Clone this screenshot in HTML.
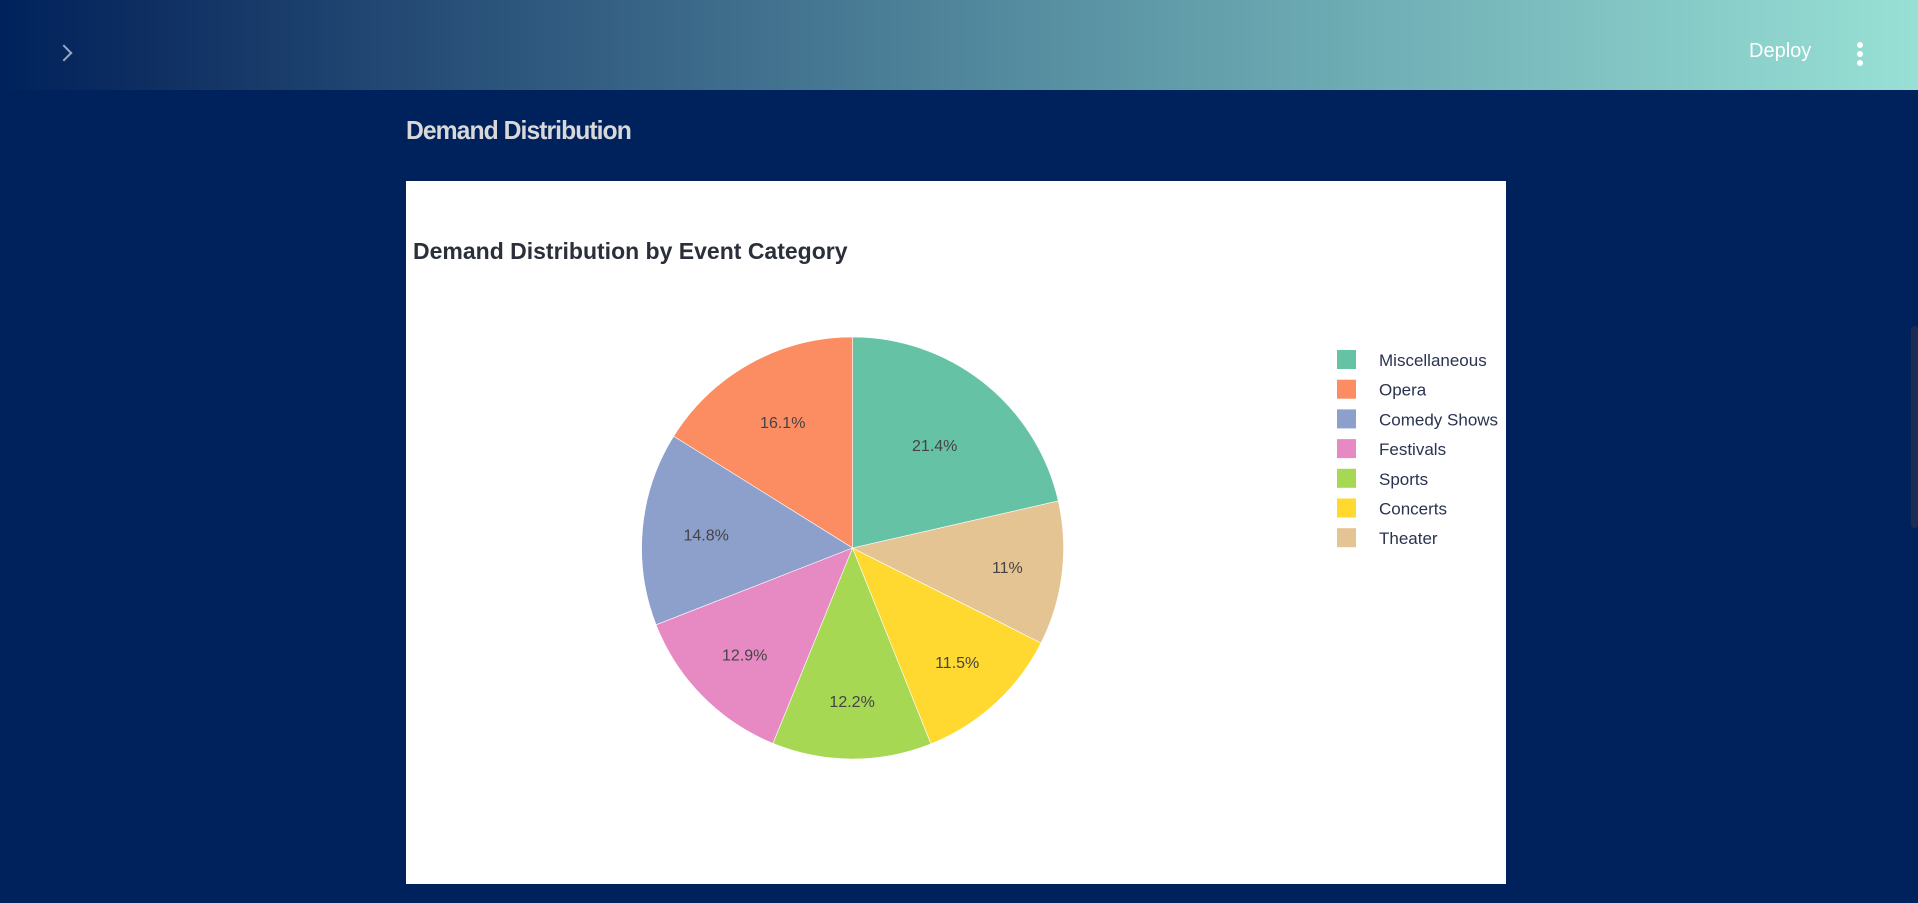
<!DOCTYPE html>
<html><head><meta charset="utf-8"><style>
html,body{margin:0;padding:0;width:1918px;height:903px;overflow:hidden;background:#00225c;font-family:"Liberation Sans",sans-serif;}
#header{position:absolute;left:0;top:0;width:1918px;height:90px;background:linear-gradient(90deg,#00225c 0%,#0f2f62 8%,#3a6788 35%,#5f9aa8 60%,#98e0d5 100%);}
#chev{position:absolute;left:58px;top:47px;width:10px;height:10px;border-right:2px solid #9aa8c0;border-top:2px solid #9aa8c0;transform:rotate(45deg);}
#deploy{position:absolute;left:1749px;top:40px;color:#fff;font-size:20px;}
.dot{position:absolute;left:1857px;width:6px;height:6px;border-radius:3px;background:#fff;}
#pagetitle{position:absolute;left:406px;top:115px;color:#d8d8d8;font-size:26px;font-weight:bold;font-family:"Liberation Sans",sans-serif;letter-spacing:-1px;transform:scaleX(0.95);transform-origin:left;}
#card{position:absolute;left:406px;top:181px;width:1100px;height:703px;background:#fff;}
#scroll{position:absolute;left:1911px;top:326px;width:7px;height:202px;background:#1b2b52;border-radius:3px;}
</style></head><body>
<div id="header">
  <div id="chev"></div>
  <div id="deploy">Deploy</div>
  <div class="dot" style="top:42px"></div>
  <div class="dot" style="top:51px"></div>
  <div class="dot" style="top:60px"></div>
</div>
<div id="pagetitle">Demand Distribution</div>
<div id="scroll"></div>
<div id="card">
<svg id="chart" width="1100" height="703" xmlns="http://www.w3.org/2000/svg">
  <text x="7" y="78" font-family="Liberation Sans, sans-serif" font-size="23" font-weight="bold" fill="#2a2f3a">Demand Distribution by Event Category</text>
  <g id="slices"></g>
  <g id="labels"></g>
  <g id="legend"></g>
</svg>
</div>
<script>
const categories = ["Miscellaneous","Opera","Comedy Shows","Festivals","Sports","Concerts","Theater"];
const values = [21.4,16.1,14.8,12.9,12.2,11.5,11.0];
const colors = ["#66c2a5","#fc8d62","#8da0cb","#e78ac3","#a6d854","#ffd92f","#e5c494"];

const NS = "http://www.w3.org/2000/svg";
const cx = 852.6-406, cy = 548-181, R = 211;
const total = values.reduce((a,b)=>a+b,0);
const slicesG = document.getElementById('slices');
const labelsG = document.getElementById('labels');
const legendG = document.getElementById('legend');
function pt(a, r){ return [cx + r*Math.sin(a), cy - r*Math.cos(a)]; }
let end = values[0]/total*2*Math.PI;
values.forEach((v,i)=>{
  const span = v/total*2*Math.PI;
  const a1 = end - span, a2 = end;
  const p1 = pt(a1,R), p2 = pt(a2,R);
  const large = span > Math.PI ? 1 : 0;
  const path = document.createElementNS(NS,'path');
  path.setAttribute('d',`M${cx},${cy} L${p1[0]},${p1[1]} A${R},${R} 0 ${large} 1 ${p2[0]},${p2[1]} Z`);
  path.setAttribute('fill',colors[i]);
  path.setAttribute('stroke','#fff');
  path.setAttribute('stroke-width','0.6');
  
  
  slicesG.appendChild(path);
  const pct = v/total*100;
  const mid = (a1+a2)/2;
  const lr = R*(0.86 - 0.011*pct);
  const lp = pt(mid, lr);
  const t = document.createElementNS(NS,'text');
  t.setAttribute('x',lp[0]); t.setAttribute('y',lp[1]+6);
  t.setAttribute('text-anchor','middle');
  t.setAttribute('font-size','16');
  t.setAttribute('fill','#444');
  t.textContent = (Math.round(v*10)/10) + '%';
  
  
  labelsG.appendChild(t);
  end = a1;
  const ly = 169 + i*29.7;
  const sw = document.createElementNS(NS,'rect');
  sw.setAttribute('x',931); sw.setAttribute('y',ly); sw.setAttribute('width',19); sw.setAttribute('height',19);
  sw.setAttribute('fill',colors[i]);
  
  
  legendG.appendChild(sw);
  const lt = document.createElementNS(NS,'text');
  lt.setAttribute('x',973); lt.setAttribute('y',ly+16);
  lt.setAttribute('font-size','17'); lt.setAttribute('fill','#2a3350');
  lt.textContent = categories[i];
  
  
  legendG.appendChild(lt);
});
</script>
</body></html>
